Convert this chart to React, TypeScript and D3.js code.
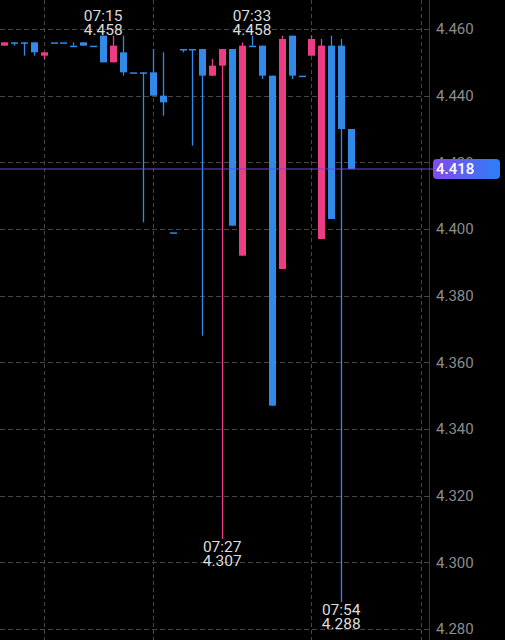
import React, { useEffect, useRef } from 'react';
import * as d3 from 'd3';

const times = [
  '07:05', '07:06', '07:07', '07:08', '07:09', '07:10', '07:11', '07:12', '07:13', '07:14',
  '07:15', '07:16', '07:17', '07:18', '07:19', '07:20', '07:21', '07:22', '07:23', '07:24',
  '07:25', '07:26', '07:27', '07:29', '07:31', '07:33', '07:35', '07:37', '07:40', '07:42',
  '07:44', '07:47', '07:49', '07:51', '07:54', '07:56',
];
const opens = [
  4.455, 4.456, 4.456, 4.456, 4.452, 4.456, 4.456, 4.455, 4.456, 4.455,
  4.458, 4.450, 4.453, 4.447, 4.447, 4.447, 4.440, 4.399, 4.454, 4.454,
  4.454, 4.446, 4.449, 4.454, 4.392, 4.455, 4.455, 4.446, 4.388, 4.458,
  4.446, 4.452, 4.397, 4.455, 4.455, 4.430,
];
const highs = [
  4.456, 4.456, 4.456, 4.456, 4.453, 4.456, 4.456, 4.456, 4.456, 4.455,
  4.458, 4.458, 4.458, 4.447, 4.447, 4.454, 4.453, 4.399, 4.454, 4.454,
  4.454, 4.451, 4.454, 4.454, 4.456, 4.458, 4.455, 4.446, 4.458, 4.458,
  4.446, 4.458, 4.457, 4.458, 4.457, 4.430,
];
const lows = [
  4.455, 4.455, 4.452, 4.452, 4.451, 4.456, 4.456, 4.455, 4.455, 4.455,
  4.450, 4.450, 4.446, 4.447, 4.402, 4.440, 4.434, 4.399, 4.453, 4.425,
  4.368, 4.446, 4.307, 4.401, 4.392, 4.455, 4.445, 4.347, 4.388, 4.445,
  4.446, 4.452, 4.397, 4.403, 4.288, 4.418,
];
const closes = [
  4.456, 4.456, 4.456, 4.453, 4.453, 4.456, 4.456, 4.455, 4.455, 4.455,
  4.450, 4.455, 4.447, 4.447, 4.447, 4.440, 4.438, 4.399, 4.454, 4.454,
  4.446, 4.449, 4.454, 4.401, 4.455, 4.455, 4.446, 4.347, 4.457, 4.446,
  4.446, 4.457, 4.455, 4.403, 4.430, 4.418,
];

const priceTicks = [4.28, 4.3, 4.32, 4.34, 4.36, 4.38, 4.4, 4.42, 4.44, 4.46];
const timeGridSlots = [4, 15, 31, 42];
const highMarks = [10, 25];
const lowMarks = [22, 34];
const lastPrice = 4.418;

const UP = '#ec3d84';
const DOWN = '#3189e8';
const GRID = '#474747';

function CandleChart() {
  const ref = useRef<any>(null);
  const dimensions = { width: 505, height: 640, plotRight: 429 };

  useEffect(() => {
    const svg = d3.select(ref.current);
    svg.selectAll('*').remove();
    svg.attr('width', dimensions.width).attr('height', dimensions.height);

    const x = d3.scaleLinear().domain([-0.4, 42.85]).range([0, dimensions.plotRight]);
    const y = d3.scaleLinear().domain([4.28, 4.46]).range([629, 29]);

    svg.append('rect').attr('width', dimensions.width).attr('height', dimensions.height).attr('fill', '#000');

    // grid
    svg
      .append('g')
      .selectAll('line')
      .data(priceTicks)
      .join('line')
      .attr('x1', 0)
      .attr('x2', dimensions.plotRight)
      .attr('y1', (d) => Math.round(y(d)) + 0.5)
      .attr('y2', (d) => Math.round(y(d)) + 0.5)
      .attr('stroke', GRID)
      .attr('stroke-dasharray', '5,3');

    svg
      .append('g')
      .selectAll('line')
      .data(timeGridSlots)
      .join('line')
      .attr('x1', (d) => Math.round(x(d)) + 0.5)
      .attr('x2', (d) => Math.round(x(d)) + 0.5)
      .attr('y1', 0)
      .attr('y2', dimensions.height)
      .attr('stroke', GRID)
      .attr('stroke-dasharray', '4,3');

    svg
      .append('line')
      .attr('x1', dimensions.plotRight + 0.5)
      .attr('x2', dimensions.plotRight + 0.5)
      .attr('y1', 0)
      .attr('y2', dimensions.height)
      .attr('stroke', '#3a3a3a');

    const idx = d3.range(times.length);
    const color = (i: number) => (closes[i] > opens[i] ? UP : DOWN);

    const candles = svg.append('g').selectAll('g').data(idx).join('g');
    candles
      .append('line')
      .attr('x1', (i) => Math.round(x(i)) + 0.5)
      .attr('x2', (i) => Math.round(x(i)) + 0.5)
      .attr('y1', (i) => y(highs[i]))
      .attr('y2', (i) => y(lows[i]))
      .attr('stroke', color)
      .attr('stroke-width', 1.3);
    candles
      .append('rect')
      .attr('x', (i) => Math.round(x(i)) - 3)
      .attr('width', 7)
      .attr('y', (i) => y(Math.max(opens[i], closes[i])))
      .attr('height', (i) => Math.max(1.5, Math.abs(y(opens[i]) - y(closes[i]))))
      .attr('fill', color);

    // last price line
    svg
      .append('line')
      .attr('x1', 0)
      .attr('x2', dimensions.plotRight + 4)
      .attr('y1', y(lastPrice))
      .attr('y2', y(lastPrice))
      .attr('stroke', '#6f44dc')
      .attr('stroke-width', 1);

    // price axis labels
    svg
      .append('g')
      .selectAll('text')
      .data(priceTicks)
      .join('text')
      .attr('x', 436)
      .attr('y', (d) => y(d))
      .attr('dy', '0.36em')
      .attr('fill', '#8c8c8c')
      .attr('font-family', 'Roboto, sans-serif')
      .attr('font-size', 15)
      .text((d) => d3.format('.3f')(d));

    const grad = svg
      .append('defs')
      .append('linearGradient')
      .attr('id', 'lastGrad')
      .attr('x1', '0%')
      .attr('x2', '100%');
    grad.append('stop').attr('offset', '0%').attr('stop-color', '#8549ee');
    grad.append('stop').attr('offset', '100%').attr('stop-color', '#2a7ff6');

    svg
      .append('rect')
      .attr('x', 433)
      .attr('y', y(lastPrice) - 10)
      .attr('width', 67)
      .attr('height', 20)
      .attr('rx', 4)
      .attr('fill', 'url(#lastGrad)');
    svg
      .append('text')
      .attr('x', 436)
      .attr('y', y(lastPrice))
      .attr('dy', '0.36em')
      .attr('fill', '#fff')
      .attr('font-family', 'Roboto, sans-serif')
      .attr('font-size', 15)
      .attr('font-weight', 500)
      .text(d3.format('.3f')(lastPrice));

    // high / low marks
    const marks = svg
      .append('g')
      .attr('fill', '#dcdcdc')
      .attr('font-family', 'Roboto, sans-serif')
      .attr('font-size', 15.5)
      .attr('text-anchor', 'middle');
    highMarks.forEach((i) => {
      marks.append('text').attr('x', x(i)).attr('y', y(highs[i]) - 14.5).text(times[i]);
      marks.append('text').attr('x', x(i)).attr('y', y(highs[i]) - 0.5).text(d3.format('.3f')(highs[i]));
    });
    lowMarks.forEach((i) => {
      marks.append('text').attr('x', x(i)).attr('y', y(lows[i]) + 12.5).text(times[i]);
      marks.append('text').attr('x', x(i)).attr('y', y(lows[i]) + 27).text(d3.format('.3f')(lows[i]));
    });
  });

  return <svg ref={ref} style={{ position: 'absolute', left: 0, top: 0, display: 'block' }}></svg>;
}

export default function App() {
  return (
    <div id="chartArea">
      <CandleChart />
    </div>
  );
}
